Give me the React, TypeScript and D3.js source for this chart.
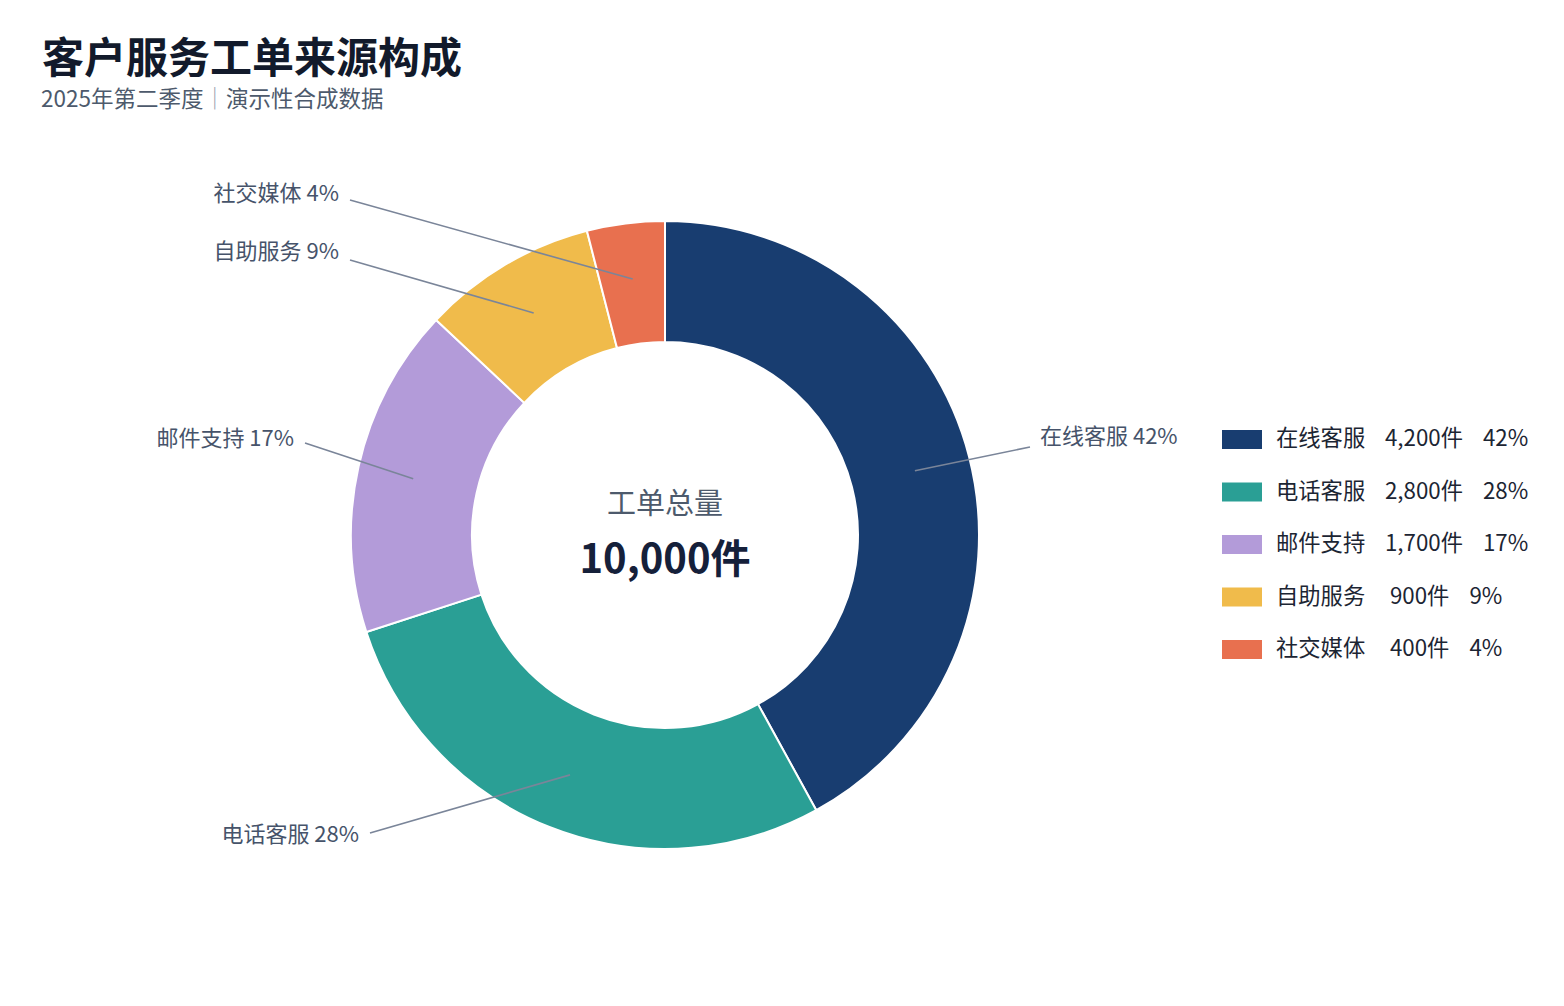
import React, { useLayoutEffect } from "react";
import * as d3 from "d3";

const WIDTH = 1564;
const HEIGHT = 1006;
const CENTER = { X: 665, Y: 535 };
const OUTER_R = 314;
const INNER_R = 193;
const LEADER_R = 258;
const FONT = "'Noto Sans CJK SC', 'Noto Sans', sans-serif";

// data
const categories = ["在线客服", "电话客服", "邮件支持", "自助服务", "社交媒体"];
const counts = [4200, 2800, 1700, 900, 400];
const colors = ["#183d70", "#2a9f95", "#b39bd9", "#f0bb4b", "#e8704f"];

// where each leader line ends (relative to the donut centre) and text nudge
const labelEnds = [
  { dx: 365, dy: -88, ty: -9 },
  { dx: -295, dy: 298, ty: 3 },
  { dx: -360, dy: -92, ty: -3 },
  { dx: -315, dy: -275, ty: -7 },
  { dx: -315, dy: -335, ty: -5 },
];

const total = d3.sum(counts);
const fmt = d3.format(",");

const App: React.FC = () => {
  useLayoutEffect(() => {
    document.body.style.margin = "0";
    document.body.style.background = "#ffffff";
  }, []);

  const pie = d3
    .pie<number>()
    .sort(null)
    .value((d) => d);
  const arcs = pie(counts);

  const arc = d3
    .arc<d3.PieArcDatum<number>>()
    .innerRadius(INNER_R)
    .outerRadius(OUTER_R);

  const leaderArc = d3
    .arc<d3.PieArcDatum<number>>()
    .innerRadius(LEADER_R)
    .outerRadius(LEADER_R);

  return (
    <svg width={WIDTH} height={HEIGHT} style={{ display: "block", fontFamily: FONT }}>
      <rect width={WIDTH} height={HEIGHT} fill="#ffffff" />

      <text x={42} y={73} fontSize={42} fontWeight={700} fill="#121a2b">
        客户服务工单来源构成
      </text>
      <text x={41} y={107} fontSize={22.5} fill="#4d5a6c">
        <tspan>2025年第二季度</tspan>
        <tspan fill="#9aa3b0">｜</tspan>
        <tspan>演示性合成数据</tspan>
      </text>

      <g transform={`translate(${CENTER.X}, ${CENTER.Y})`}>
        {arcs.map((a, i) => (
          <path
            key={categories[i]}
            d={arc(a) || ""}
            fill={colors[i]}
            stroke="#ffffff"
            strokeWidth={2}
          />
        ))}

        {arcs.map((a, i) => {
          const [cx, cy] = leaderArc.centroid(a);
          const end = labelEnds[i];
          const right = end.dx > 0;
          const pct = Math.round((counts[i] / total) * 100);
          return (
            <g key={`lbl-${categories[i]}`}>
              <line
                x1={cx}
                y1={cy}
                x2={end.dx}
                y2={end.dy}
                stroke="#7a8599"
                strokeWidth={1.6}
              />
              <text
                x={right ? end.dx + 10 : end.dx - 11}
                y={end.dy + end.ty}
                fontSize={22}
                fill="#46536a"
                textAnchor={right ? "start" : "end"}
                dominantBaseline="middle"
              >
                {`${categories[i]} ${pct}%`}
              </text>
            </g>
          );
        })}

        <text
          y={-29}
          fontSize={29}
          fill="#4d5a6c"
          textAnchor="middle"
          dominantBaseline="middle"
        >
          工单总量
        </text>
        <text
          y={27}
          fontSize={40}
          fontWeight={700}
          fill="#15203a"
          textAnchor="middle"
          dominantBaseline="middle"
        >
          {`${fmt(total)}件`}
        </text>
      </g>

      <g transform="translate(1222, 439)">
        {categories.map((c, i) => {
          const pct = Math.round((counts[i] / total) * 100);
          return (
            <g key={`leg-${c}`} transform={`translate(0, ${i * 52.5})`}>
              <rect x={0} y={-9} width={40} height={19} fill={colors[i]} />
              <text x={54} y={1} fontSize={22.3} fill="#1c2533" dominantBaseline="middle">
                <tspan>{c}</tspan>
                <tspan x={counts[i] >= 1000 ? 163 : 168}>{`${fmt(counts[i])}件`}</tspan>
                <tspan dx={20}>{`${pct}%`}</tspan>
              </text>
            </g>
          );
        })}
      </g>
    </svg>
  );
};

export default App;
